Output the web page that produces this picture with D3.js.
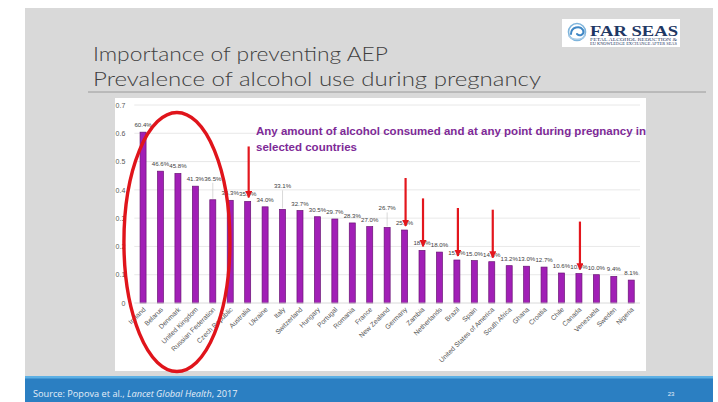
<!DOCTYPE html>
<html>
<head>
<meta charset="utf-8">
<script src="https://cdn.jsdelivr.net/npm/d3@7/dist/d3.min.js"></script>
<style>
  html, body { margin: 0; padding: 0; background: #ffffff; }
  svg { display: block; }
</style>
</head>
<body>
<svg id="slide" width="718" height="402"></svg>
<script>
// Prevalence of any alcohol use during pregnancy (Popova et al., 2017)
const countries = [
  "Ireland", "Belarus", "Denmark", "United Kingdom", "Russian Federation",
  "Czech Republic", "Australia", "Ukraine", "Italy", "Switzerland", "Hungary",
  "Portugal", "Romania", "France", "New Zealand", "Germany", "Zambia",
  "Netherlands", "Brazil", "Spain", "United States of America", "South Africa",
  "Ghana", "Croatia", "Chile", "Canada", "Venezuela", "Sweden", "Nigeria"
];
const prevalencePct = [
  60.4, 46.6, 45.8, 41.3, 36.5, 36.3, 35.9, 34.0, 33.1, 32.7, 30.5,
  29.7, 28.3, 27.0, 26.7, 25.8, 18.6, 18.0, 15.2, 15.0, 14.6, 13.2,
  13.0, 12.7, 10.6, 10.4, 10.0, 9.4, 8.1
];
const yTickValues = [0, 0.1, 0.2, 0.3, 0.4, 0.5, 0.6, 0.7];
const yTickLabels = ["0", "0.1", "0.2", "0.3", "0.4", "0.5", "0.6", "0.7"];
const highlighted = ["Ireland", "Belarus", "Denmark", "United Kingdom", "Russian Federation"];
const arrowed = ["Australia", "Germany", "Zambia", "Brazil", "United States of America", "Canada"];

const titleLines = ["Importance of preventing AEP", "Prevalence of alcohol use during pregnancy"];
const noteLines = ["Any amount of alcohol consumed and at any point during pregnancy in", "selected countries"];

const data = countries.map((c, i) => ({ country: c, value: prevalencePct[i] / 100, pct: prevalencePct[i] }));

const svg = d3.select("#slide");

// slide background and footer band
svg.append("rect").attr("x", 25).attr("y", 8).attr("width", 688).attr("height", 370).attr("fill", "#d9d9d9");
svg.append("rect").attr("x", 25).attr("y", 376).attr("width", 688).attr("height", 26).attr("fill", "#2b7fc2");
svg.append("rect").attr("x", 25).attr("y", 376).attr("width", 688).attr("height", 2.5).attr("fill", "#5db0e4");

// titles
const titleG = svg.append("g").attr("font-family", "Lato, 'Open Sans', sans-serif")
  .attr("font-weight", 300).attr("fill", "#404040");
titleG.append("text").attr("x", 93).attr("y", 61).attr("font-size", 20.5)
  .attr("textLength", 295).attr("lengthAdjust", "spacingAndGlyphs").text(titleLines[0]);
titleG.append("text").attr("x", 93).attr("y", 86).attr("font-size", 20.5)
  .attr("textLength", 448).attr("lengthAdjust", "spacingAndGlyphs").text(titleLines[1]);
svg.append("line").attr("x1", 88).attr("x2", 706).attr("y1", 92).attr("y2", 92)
  .attr("stroke", "#9a9a9a").attr("stroke-width", 1);

// logo
const logo = svg.append("g");
logo.append("rect").attr("x", 562).attr("y", 19).attr("width", 118).attr("height", 28).attr("fill", "#ffffff");
const swirl = logo.append("g").attr("fill", "none").attr("stroke-linecap", "round");
swirl.append("circle").attr("cx", 577).attr("cy", 32).attr("r", 8.5).attr("stroke", "#7fb5dc").attr("stroke-width", 1.6);
swirl.append("path").attr("d", "M571,34 C571,27 580,25 583,30 C585,34 580,37 577,34").attr("stroke", "#3f87c5").attr("stroke-width", 2);
swirl.append("path").attr("d", "M569,36 C573,41 583,40 585,35").attr("stroke", "#a8cbe6").attr("stroke-width", 1.4);
logo.append("text").attr("x", 590).attr("y", 35.5).attr("font-family", "'Liberation Serif', serif")
  .attr("font-weight", 700).attr("font-size", 14.5).attr("fill", "#1f3864")
  .attr("textLength", 88).attr("lengthAdjust", "spacingAndGlyphs").text("FAR SEAS");
logo.append("text").attr("x", 590).attr("y", 40.8).attr("font-family", "'Liberation Serif', serif")
  .attr("font-size", 3.2).attr("fill", "#1f3864").attr("textLength", 87).attr("lengthAdjust", "spacingAndGlyphs")
  .text("FETAL ALCOHOL REDUCTION &");
logo.append("text").attr("x", 590).attr("y", 44.8).attr("font-family", "'Liberation Serif', serif")
  .attr("font-size", 3).attr("fill", "#1f3864").attr("textLength", 87).attr("lengthAdjust", "spacingAndGlyphs")
  .text("EU KNOWLEDGE EXCHANGE AFTER SEAS");

// chart panel
svg.append("rect").attr("x", 115).attr("y", 98).attr("width", 531).attr("height", 273).attr("fill", "#ffffff");

const plot = { left: 134.3, right: 640, top: 105, bottom: 303 };
const x = d3.scaleBand().domain(countries).range([plot.left, plot.right]).paddingInner(0.655).paddingOuter(0.33);
const y = d3.scaleLinear().domain([0, 0.7]).range([plot.bottom, plot.top]);

// gridlines
svg.append("g").selectAll("line").data(yTickValues.slice(1)).join("line")
  .attr("x1", plot.left).attr("x2", plot.right)
  .attr("y1", d => y(d)).attr("y2", d => y(d))
  .attr("stroke", "#e2e2e2").attr("stroke-width", 0.8);

// y axis labels
const yAxis = d3.axisLeft(y).tickValues(yTickValues).tickFormat((d, i) => yTickLabels[i]).tickSize(0).tickPadding(4);
const yG = svg.append("g").attr("transform", `translate(${plot.left - 5},0)`).call(yAxis);
yG.select(".domain").remove();
yG.selectAll("text").attr("font-family", "'Liberation Sans', Arial, sans-serif").attr("font-size", 7).attr("fill", "#595959");

// bars
svg.append("g").selectAll("rect").data(data).join("rect")
  .attr("x", d => x(d.country)).attr("width", x.bandwidth())
  .attr("y", d => y(d.value)).attr("height", d => y(0) - y(d.value))
  .attr("fill", "#a11fb6").attr("stroke", "#6a1475").attr("stroke-width", 0.7);

// baseline
svg.append("line").attr("x1", plot.left).attr("x2", plot.right).attr("y1", y(0)).attr("y2", y(0))
  .attr("stroke", "#d0d0d0").attr("stroke-width", 0.8);

// x axis labels
const xAxis = d3.axisBottom(x).tickSize(0).tickPadding(0);
const xG = svg.append("g").attr("transform", `translate(0,${plot.bottom})`).call(xAxis);
xG.select(".domain").remove();
xG.selectAll("text")
  .attr("font-family", "'Liberation Sans', Arial, sans-serif").attr("font-size", 6.8).attr("fill", "#595959")
  .attr("text-anchor", "end").attr("dy", 0)
  .attr("transform", "translate(3,7) rotate(-45)");

// value labels (a few are lifted with a leader line)
const lift = { "Russian Federation": 14, "Italy": 16, "New Zealand": 12 };
const lbl = svg.append("g").attr("font-family", "'Liberation Sans', Arial, sans-serif")
  .attr("font-size", 6.1).attr("fill", "#404040").attr("text-anchor", "middle");
data.forEach(d => {
  const cx = x(d.country) + x.bandwidth() / 2;
  const top = y(d.value);
  const up = lift[d.country] || 0;
  lbl.append("text").attr("x", cx).attr("y", top - 5 - up).text(d.pct.toFixed(1) + "%");
  if (up) {
    svg.append("line").attr("x1", cx).attr("x2", cx).attr("y1", top - 3 - up).attr("y2", top - 1)
      .attr("stroke", "#bfbfbf").attr("stroke-width", 0.6);
  }
});

// annotation
const note = svg.append("g").attr("font-family", "'Liberation Sans', Arial, sans-serif")
  .attr("font-weight", 700).attr("font-size", 10.6).attr("fill", "#7e2a97");
note.append("text").attr("x", 256).attr("y", 134.5).attr("textLength", 390)
  .attr("lengthAdjust", "spacingAndGlyphs").text(noteLines[0]);
note.append("text").attr("x", 256).attr("y", 150.5).attr("textLength", 101)
  .attr("lengthAdjust", "spacingAndGlyphs").text(noteLines[1]);

// red arrows pointing at selected bars
const red = "#e3161d";
svg.append("defs").append("marker").attr("id", "head").attr("viewBox", "0 0 10 10")
  .attr("refX", 9).attr("refY", 5).attr("markerWidth", 3.2).attr("markerHeight", 3.2)
  .attr("orient", "auto").attr("markerUnits", "strokeWidth")
  .append("path").attr("d", "M0,0 L10,5 L0,10 z").attr("fill", red);
svg.append("g").selectAll("line").data(data.filter(d => arrowed.includes(d.country))).join("line")
  .attr("x1", d => x(d.country) + x.bandwidth() / 2 + 1).attr("x2", d => x(d.country) + x.bandwidth() / 2 + 1)
  .attr("y1", d => y(d.value) - (d.country === "Australia" ? 55 : 52))
  .attr("y2", d => y(d.value) - 4)
  .attr("stroke", red).attr("stroke-width", 2.2).attr("marker-end", "url(#head)");

// red ellipse around the highest-prevalence group
const hx0 = x(highlighted[0]), hx1 = x(highlighted[highlighted.length - 1]) + x.bandwidth();
svg.append("ellipse")
  .attr("cx", (hx0 + hx1) / 2 - 1).attr("cy", 242)
  .attr("rx", 53).attr("ry", 129.5)
  .attr("fill", "none").attr("stroke", "#e0141b").attr("stroke-width", 3.4);

// footer
const foot = svg.append("text").attr("x", 33).attr("y", 396.5)
  .attr("font-family", "'Open Sans', 'Liberation Sans', sans-serif").attr("font-size", 9.2).attr("fill", "#e4eef8");
foot.append("tspan").text("Source: Popova et al., ");
foot.append("tspan").attr("font-style", "italic").text("Lancet Global Health");
foot.append("tspan").text(", 2017");
svg.append("text").attr("x", 671).attr("y", 396).attr("font-family", "'Liberation Sans', sans-serif")
  .attr("font-size", 6).attr("fill", "#e4eef8").attr("text-anchor", "middle").text("23");
</script>
</body>
</html>
